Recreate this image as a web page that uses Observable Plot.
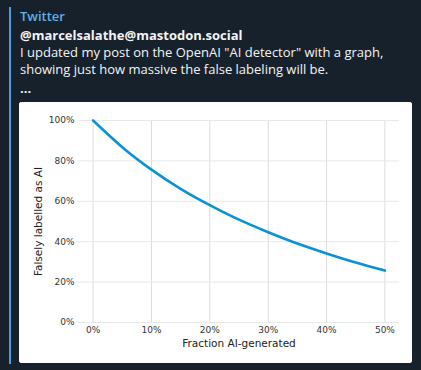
<!DOCTYPE html>
<html>
<head>
<meta charset="utf-8">
<script src="https://cdn.jsdelivr.net/npm/d3@7"></script>
<script src="https://cdn.jsdelivr.net/npm/@observablehq/plot@0.6"></script>
<style>
  html, body { margin: 0; padding: 0; }
  body { width: 421px; height: 370px; background: #17212b; position: relative; overflow: hidden; font-family: "Open Sans", sans-serif; }
  #bar { position: absolute; left: 9px; top: 7px; width: 2px; height: 357px; background: #4a9fe3; }
  .line { position: absolute; left: 20px; font-size: 13px; line-height: 17px; color: #f2f4f6; white-space: nowrap; }
  #title { top: 7.5px; color: #62aee9; font-weight: 600; }
  #handle { top: 26.5px; font-weight: 700; }
  #l1 { top: 44px; }
  #l2 { top: 61px; }
  #l3 { top: 82.5px; line-height: 10px; height: 10px; font-weight: 700; }
  #card { position: absolute; left: 19px; top: 102px; width: 393px; height: 261px; background: #ffffff; border-radius: 3px; overflow: hidden; }
  #card svg { display: block; }
</style>
</head>
<body>
<div id="bar"></div>
<div class="line" id="title">Twitter</div>
<div class="line" id="handle">@marcelsalathe@mastodon.social</div>
<div class="line" id="l1">I updated my post on the OpenAI "AI detector" with a graph,</div>
<div class="line" id="l2">showing just how massive the false labeling will be.</div>
<div class="line" id="l3">...</div>
<div id="card"></div>
<script>
const fractionAI = [0.00, 0.05, 0.10, 0.15, 0.20, 0.25, 0.30, 0.35, 0.40, 0.45, 0.50];
const falselyLabelled = [1.000, 0.868, 0.757, 0.662, 0.581, 0.509, 0.447, 0.391, 0.342, 0.297, 0.257];
const xTicks = [0, 0.1, 0.2, 0.3, 0.4, 0.5];
const yTicks = [0, 0.2, 0.4, 0.6, 0.8, 1.0];
const xLabel = "Fraction AI-generated";
const yLabel = "Falsely labelled as AI";

const data = fractionAI.map((x, i) => ({x, y: falselyLabelled[i]}));
const pct = d => Math.round(d * 100) + "%";

const chart = Plot.plot({
  width: 393,
  height: 261,
  marginLeft: 59,
  marginRight: 13,
  marginTop: 18,
  marginBottom: 41,
  style: {fontFamily: "DejaVu Sans", fontSize: "9px", color: "#333", background: "white"},
  x: {domain: [-0.025, 0.525]},
  y: {domain: [0, 1]},
  marks: [
    Plot.gridX(xTicks, {stroke: "#dcdcdc", strokeOpacity: 1, strokeWidth: 1}),
    Plot.gridY(yTicks, {stroke: "#e8e8e8", strokeOpacity: 1, strokeWidth: 1}),
    Plot.axisX(xTicks, {tickSize: 0, tickPadding: 4, tickFormat: pct, label: null, fontSize: 9}),
    Plot.axisY(yTicks, {tickSize: 0, tickPadding: 4, tickFormat: pct, label: null, fontSize: 9}),
    Plot.text([xLabel], {frameAnchor: "bottom", dy: 21, text: d => d, fontSize: 10.5, fill: "#222", lineAnchor: "middle", textAnchor: "middle"}),
    Plot.text([yLabel], {frameAnchor: "left", dx: -40, rotate: -90, text: d => d, fontSize: 10.5, fill: "#222", lineAnchor: "middle", textAnchor: "middle"}),
    Plot.line(data, {x: "x", y: "y", stroke: "#0a92d8", strokeWidth: 2.6, curve: "natural"})
  ]
});
document.getElementById("card").appendChild(chart);
</script>
</body>
</html>
